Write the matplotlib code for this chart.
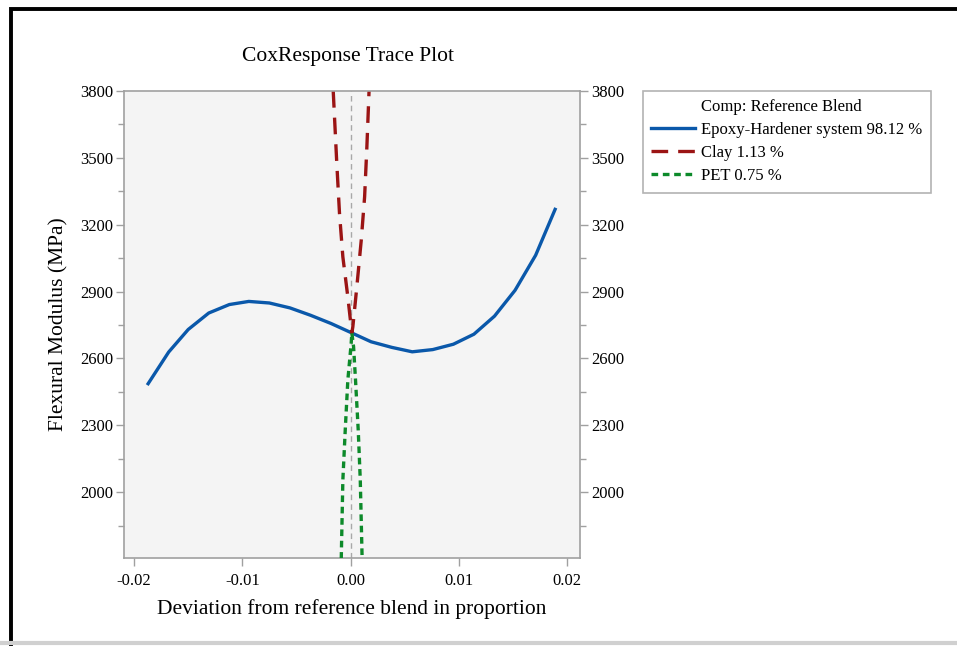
import numpy as np
import matplotlib
matplotlib.use("Agg")
import matplotlib.pyplot as plt
from matplotlib.lines import Line2D
from matplotlib.patches import Rectangle

# [Data]________________________________________________________________________

x_epoxy = [-0.0187, -0.0168, -0.0150, -0.0131, -0.0112, -0.0094, -0.0075, -0.0056,
           -0.0037, -0.0018, 0.0001, 0.0019, 0.0038, 0.0057, 0.0076, 0.0095,
           0.0114, 0.0133, 0.0152, 0.0171, 0.0189]
y_epoxy = [2487, 2629, 2730, 2804, 2842, 2856, 2849, 2827,
           2794, 2757, 2715, 2675, 2650, 2630, 2640, 2664,
           2709, 2790, 2906, 3063, 3269]

x_clay = [-0.00160, -0.00127, -0.00102, -0.00071, -0.00025, 0.00012,
          0.00021, 0.00058, 0.00099, 0.00130, 0.00151, 0.00175]
y_clay = [3800, 3475, 3251, 3056, 2876, 2715,
          2741, 2921, 3131, 3325, 3550, 3850]

x_pet = [-0.00090, -0.00071, -0.00049, -0.00025, 0.00006, 0.00012,
         0.00028, 0.00046, 0.00071, 0.00090, 0.00112]
y_pet = [1600, 2054, 2279, 2503, 2668, 2715,
         2653, 2503, 2279, 2054, 1600]

labels = ["Epoxy-Hardener system 98.12 %", "Clay 1.13 %", "PET 0.75 %"]
legend_title = "Comp: Reference Blend"

y_ticks = [2000, 2300, 2600, 2900, 3200, 3500, 3800]
x_ticks = [-0.02, -0.01, 0.0, 0.01, 0.02]

# [Plot]________________________________________________________________________

plt.rcParams["font.family"] = ["Liberation Serif", "DejaVu Serif"]

fig = plt.figure(figsize=(9.57, 6.46), dpi=100)
ax = fig.add_axes([124/957, 1 - 558/646, 456/957, 467/646])
ax.set_facecolor("#f4f4f4")

ax.axvline(0, color="#a8a8a8", lw=1.0, ls=(0, (4, 3)), zorder=1)

l1, = ax.plot(x_epoxy, y_epoxy, color="#0a58aa", lw=2.4, zorder=3)
l2, = ax.plot(x_clay, y_clay, color="#9b1414", lw=2.4, ls=(0, (5, 3)), zorder=3)
l3, = ax.plot(x_pet, y_pet, color="#0d8a2a", lw=2.4, ls=(0, (2, 1.4)), zorder=3)

ax.set_xlim(-0.02093, 0.0212)
ax.set_ylim(1705, 3800)
ax.set_xticks(x_ticks)
ax.set_xticklabels([f"{v:.2f}" for v in x_ticks])
ax.set_yticks(y_ticks)
ax.set_yticks([1850, 2150, 2450, 2750, 3050, 3350, 3650], minor=True)

for s in ax.spines.values():
  s.set_color("#a0a0a0")
  s.set_linewidth(1.2)
ax.spines["top"].set_visible(False)

ax.tick_params(axis="both", which="major", direction="out", length=6, width=1.0,
               color="#a0a0a0", labelsize=12, pad=2)
ax.tick_params(axis="y", which="both", right=True, labelright=True)
ax.tick_params(axis="y", which="minor", length=4, width=1.0, color="#a0a0a0")
ax.tick_params(axis="x", pad=5)
ax.plot([-0.02093, 0.0212], [3800, 3800], color="#a0a0a0", lw=1.2, clip_on=False, zorder=4)

ax.set_xlabel("Deviation from reference blend in proportion", fontsize=15.5, labelpad=7)
ax.set_ylabel("Flexural Modulus (MPa)", fontsize=15.5, labelpad=8)
fig.text(348/957, 1 - 56/646, "CoxResponse Trace Plot", fontsize=15.5, ha="center", va="center")

blank = Line2D([], [], color="none")
leg = fig.legend([blank, l1, l2, l3], [legend_title] + labels,
                 loc="upper left", bbox_to_anchor=(643/957, 1 - 91/646), borderaxespad=0,
                 fontsize=12, frameon=True, fancybox=False, handlelength=2.6,
                 handletextpad=0.4, borderpad=0.5, labelspacing=0.42)
leg.get_frame().set_edgecolor("#a0a0a0")
leg.get_frame().set_linewidth(1.2)

# outer frame
fig.add_artist(Rectangle((11/957, -0.5), 2.0, 1.5 - 9/646, transform=fig.transFigure,
                         fill=False, edgecolor="black", lw=2.8))
fig.add_artist(Line2D([0, 1], [3/646, 3/646], transform=fig.transFigure,
                      color="#d0d0d0", lw=3))

fig.savefig("out.png", dpi=100)
